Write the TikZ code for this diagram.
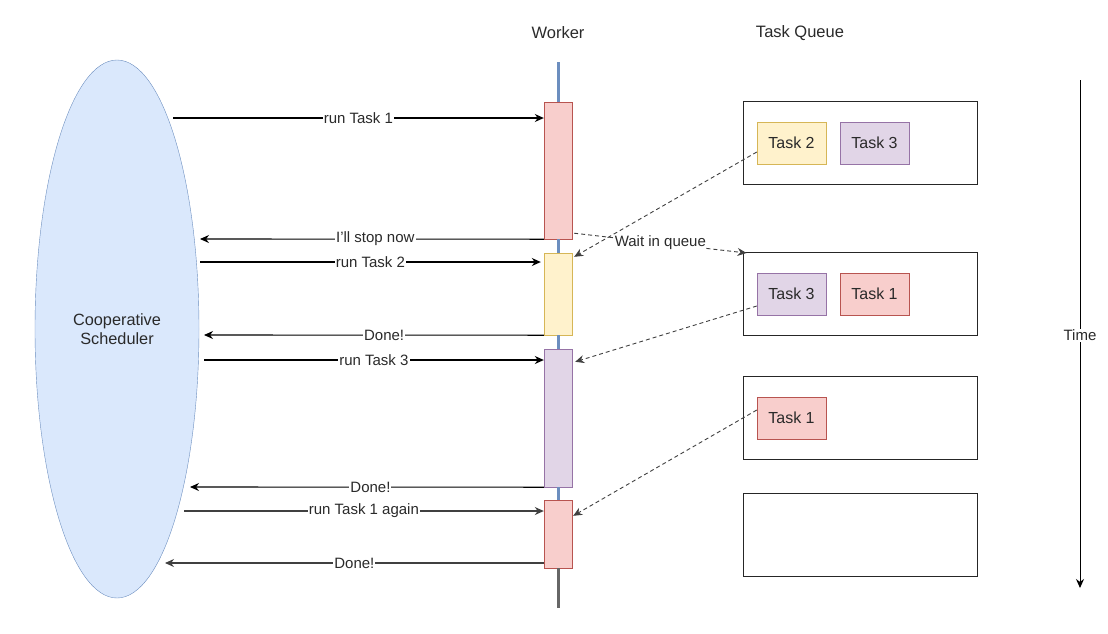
\documentclass[tikz,border=0pt]{standalone}
\usepackage{fontspec}
\setmainfont{Liberation Sans}
\usetikzlibrary{arrows.meta,calc,shapes.geometric}
\definecolor{bluefill}{HTML}{DAE8FC}
\definecolor{bluedraw}{HTML}{6C8EBF}
\definecolor{redfill}{HTML}{F8CECC}
\definecolor{reddraw}{HTML}{B85450}
\definecolor{yelfill}{HTML}{FFF2CC}
\definecolor{yeldraw}{HTML}{D6B656}
\definecolor{purfill}{HTML}{E1D5E7}
\definecolor{purdraw}{HTML}{9673A6}
\definecolor{txt}{HTML}{2A2A2A}
\begin{document}
\begin{tikzpicture}[x=1pt,y=-1pt,
  every node/.style={font=\fontsize{15}{17}\selectfont, text=txt},
  title/.style={font=\fontsize{16.5}{19}\selectfont},
  wbox/.style={draw, minimum width=28pt, inner sep=0pt},
  qbox/.style={draw=black!85, line width=1pt, minimum width=234pt, minimum height=83pt, inner sep=0pt},
  tbox/.style={draw, minimum width=69pt, minimum height=42pt, inner sep=0pt, font=\fontsize{16}{18}\selectfont},
  red/.style={fill=redfill, draw=reddraw},
  yel/.style={fill=yelfill, draw=yeldraw},
  pur/.style={fill=purfill, draw=purdraw},
  msg/.style={line width=1.1pt, -{Stealth[length=9pt,width=8pt]}},
  lbl/.style={fill=white, inner sep=1pt},
  dsh/.style={dashed, dash pattern=on 4pt off 3pt, line width=0.9pt, draw=black!75, -{Stealth[length=9pt,width=8pt]}},
  wline/.style={line width=3pt, draw=bluedraw}
]
\useasboundingbox (0,0) rectangle (1108,633);

% scheduler
\node[ellipse, draw=bluedraw, fill=bluefill, minimum width=164pt, minimum height=538pt, inner sep=0pt,
  align=center, font=\fontsize{16.3}{19.5}\selectfont] (sched) at (117,329) {Cooperative\\Scheduler};

% titles
\node[title] (wt) at (558,33) {Worker};
\node[title] (qt) at (800,33) {Task Queue};

% worker boxes
\coordinate (wtop) at (558,62);
\coordinate (wbot) at (558,608);
\node[wbox, red, minimum height=137pt] (w1) at (558,170.5) {};
\node[wbox, yel, minimum height=82pt] (w2) at (558,294) {};
\node[wbox, pur, minimum height=138pt] (w3) at (558,418) {};
\node[wbox, red, minimum height=68pt] (w4) at (558,534) {};
\draw[wline] (wtop) -- (w1.north);
\draw[wline] (w1.south) -- (w2.north);
\draw[wline] (w2.south) -- (w3.north);
\draw[wline] (w3.south) -- (w4.north);
\draw[line width=3pt, draw=black!60] (w4.south) -- (wbot);

% queue boxes
\node[qbox] (q1) at (860,142.5) {};
\node[qbox] (q2) at (860,294) {};
\node[qbox] (q3) at (860,418) {};
\node[qbox] (q4) at (860,534.5) {};

\node[tbox, yel] (q1a) at (791.5,143) {Task 2};
\node[tbox, pur] (q1b) at (874.5,143) {Task 3};
\node[tbox, pur] (q2a) at (791.5,294) {Task 3};
\node[tbox, red] (q2b) at (874.5,294) {Task 1};
\node[tbox, red] (q3a) at (791.5,418) {Task 1};

% message coordinates
\coordinate (s1) at (173,118);
\coordinate (s2) at (200,239);
\coordinate (s3) at (200,262);
\coordinate (s4) at (204,335);
\coordinate (s5) at (204,360);
\coordinate (s6) at (190,487);
\coordinate (s7) at (184,511);
\coordinate (s8) at (165,563);

\draw[msg] (s1) -- (s1 -| w1.west) node[lbl, pos=0.5] {run Task 1};
\draw[msg] (w1.south west) -- (s2) node[lbl, pos=0.49] {I'll stop now};
\draw[msg] (s3) -- ($(s3 -| w2.west)+(-3,0)$) node[lbl, pos=0.5] {run Task 2};
\draw[msg] (w2.south west) -- (s4) node[lbl, pos=0.47] {Done!};
\draw[msg] (s5) -- (s5 -| w3.west) node[lbl, pos=0.5] {run Task 3};
\draw[msg] (w3.south west) -- (s6) node[lbl, pos=0.49] {Done!};
\draw[msg, draw=black!75] (s7) -- (s7 -| w4.west) node[lbl, pos=0.5] {run Task 1 again};
\draw[msg, draw=black!75] (w4.west |- s8) -- (s8) node[lbl, pos=0.5] {Done!};

% dashed arrows
\draw[dsh] ($(q1a.west)+(0,9)$) -- ($(w2.north east)+(2,4)$);
\draw[dsh] ($(w1.south east)+(2,-6)$) -- ($(q2.north west)+(4,1)$) node[lbl, pos=0.5, inner sep=0.5pt] {Wait in queue};
\draw[dsh] ($(q2a.west)+(0,12)$) -- ($(w3.north east)+(3,13)$);
\draw[dsh] ($(q3a.west)+(0,-8)$) -- ($(w4.north east)+(1,16)$);

% time
\coordinate (ta) at (1080,80);
\coordinate (tb) at (1080,588);
\draw[line width=1pt, -{Stealth[length=9pt,width=8pt]}] (ta) -- (tb) node[lbl, pos=0.502] {Time};
\end{tikzpicture}
\end{document}
